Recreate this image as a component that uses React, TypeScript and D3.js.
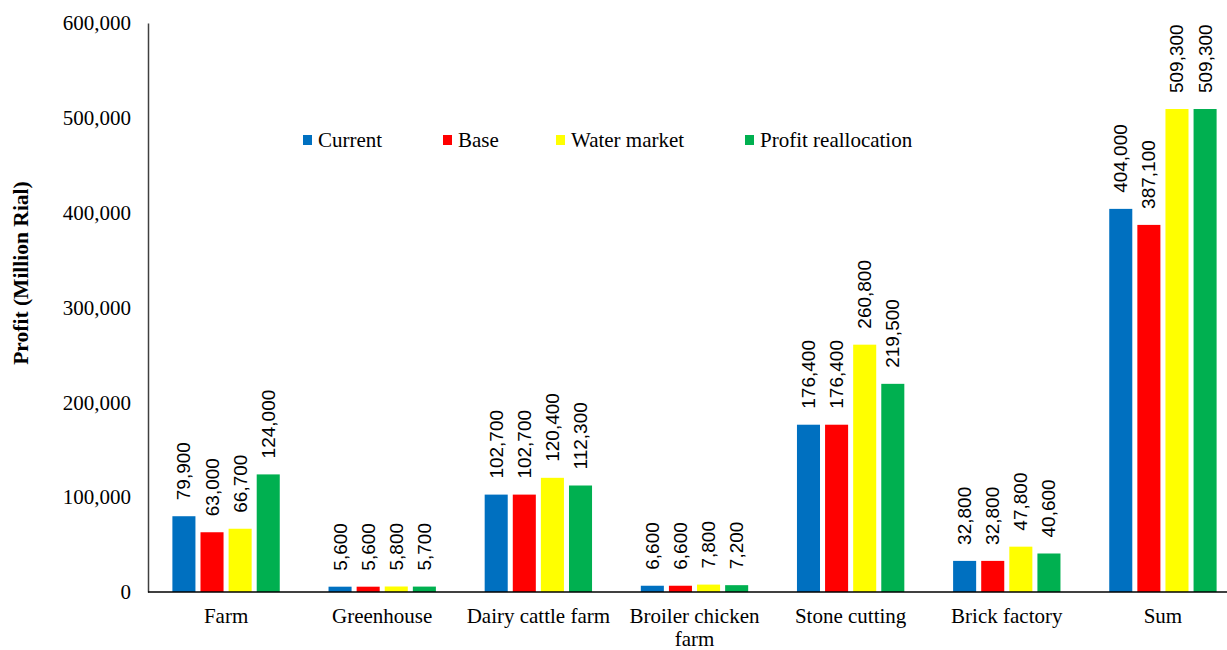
import * as d3 from "d3";
import { useRef, useEffect } from "react";

const width = 1227;
const height = 650;
const margin = { left: 148, top: 23, bottom: 58 };
const plotRight = 1241;

const categories = [
  "Farm",
  "Greenhouse",
  "Dairy cattle farm",
  "Broiler chicken farm",
  "Stone cutting",
  "Brick factory",
  "Sum",
];
const seriesNames = ["Current", "Base", "Water market", "Profit reallocation"];
const seriesColors = ["#0070C0", "#FF0000", "#FFFF00", "#00B050"];
const current = [79900, 5600, 102700, 6600, 176400, 32800, 404000];
const base = [63000, 5600, 102700, 6600, 176400, 32800, 387100];
const waterMarket = [66700, 5800, 120400, 7800, 260800, 47800, 509300];
const profitRealloc = [124000, 5700, 112300, 7200, 219500, 40600, 509300];
const yTicks = [0, 100000, 200000, 300000, 400000, 500000, 600000];

const series = [current, base, waterMarket, profitRealloc];
const legendX = [303, 443, 556, 745];

const serif = "'Liberation Serif', 'Times New Roman', serif";
const sans = "'Liberation Sans', Arial, sans-serif";

export default function App() {
  const yAxisRef = useRef<SVGGElement>(null);

  const x0 = d3
    .scaleBand()
    .domain(categories)
    .range([margin.left, plotRight])
    .paddingInner(0.28)
    .paddingOuter(0.14);
  const x1 = d3
    .scaleBand()
    .domain(seriesNames)
    .range([0, x0.bandwidth()])
    .paddingInner(0.18)
    .paddingOuter(0.09);
  const y = d3
    .scaleLinear()
    .domain([0, 600000])
    .range([height - margin.bottom, margin.top]);
  const fmt = d3.format(",");

  useEffect(() => {
    if (!yAxisRef.current) return;
    const g = d3.select(yAxisRef.current);
    g.call(
      d3
        .axisLeft(y)
        .tickValues(yTicks)
        .tickFormat((d) => fmt(d as number))
        .tickSize(0)
        .tickPadding(17)
    );
    g.select(".domain").attr("stroke", "#404040").attr("stroke-width", 1.5);
    g.selectAll("text")
      .attr("font-family", serif)
      .attr("font-size", 21)
      .attr("fill", "#000");
  }, []);

  return (
    <svg
      width={width}
      height={height}
      style={{ position: "absolute", left: 0, top: 0, background: "#fff" }}
    >
      {series.map((vals, si) =>
        vals.map((v, ci) => {
          const bx = (x0(categories[ci]) ?? 0) + (x1(seriesNames[si]) ?? 0);
          const cx = bx + x1.bandwidth() / 2;
          return (
            <g key={`${si}-${ci}`}>
              <rect
                x={bx}
                y={y(v)}
                width={x1.bandwidth()}
                height={y(0) - y(v)}
                fill={seriesColors[si]}
              />
              <text
                transform={`translate(${cx},${y(v) - 16}) rotate(-90)`}
                dominantBaseline="central"
                fontFamily={sans}
                fontSize={19}
                fill="#000"
              >
                {fmt(v)}
              </text>
            </g>
          );
        })
      )}

      <g ref={yAxisRef} transform={`translate(${margin.left},0)`} />
      <line
        x1={margin.left}
        x2={width}
        y1={y(0)}
        y2={y(0)}
        stroke="#000"
        strokeWidth={1.5}
      />

      {categories.map((c) => {
        const cx = (x0(c) ?? 0) + x0.bandwidth() / 2;
        const lines = c === "Broiler chicken farm" ? ["Broiler chicken", "farm"] : [c];
        return (
          <text
            key={c}
            x={cx}
            y={623}
            textAnchor="middle"
            fontFamily={serif}
            fontSize={21}
            fill="#000"
          >
            {lines.map((l, i) => (
              <tspan key={l} x={cx} dy={i === 0 ? 0 : 23}>
                {l}
              </tspan>
            ))}
          </text>
        );
      })}

      <text
        transform={`translate(21,273) rotate(-90)`}
        textAnchor="middle"
        dominantBaseline="central"
        fontFamily={serif}
        fontSize={21.5}
        fontWeight="bold"
        fill="#000"
      >
        Profit (Million Rial)
      </text>

      {seriesNames.map((s, i) => (
        <g key={s} transform={`translate(${legendX[i]},140)`}>
          <rect x={0} y={-5} width={9} height={10} fill={seriesColors[i]} />
          <text
            x={15}
            y={0}
            dominantBaseline="central"
            fontFamily={serif}
            fontSize={21}
            fill="#000"
          >
            {s}
          </text>
        </g>
      ))}
    </svg>
  );
}
